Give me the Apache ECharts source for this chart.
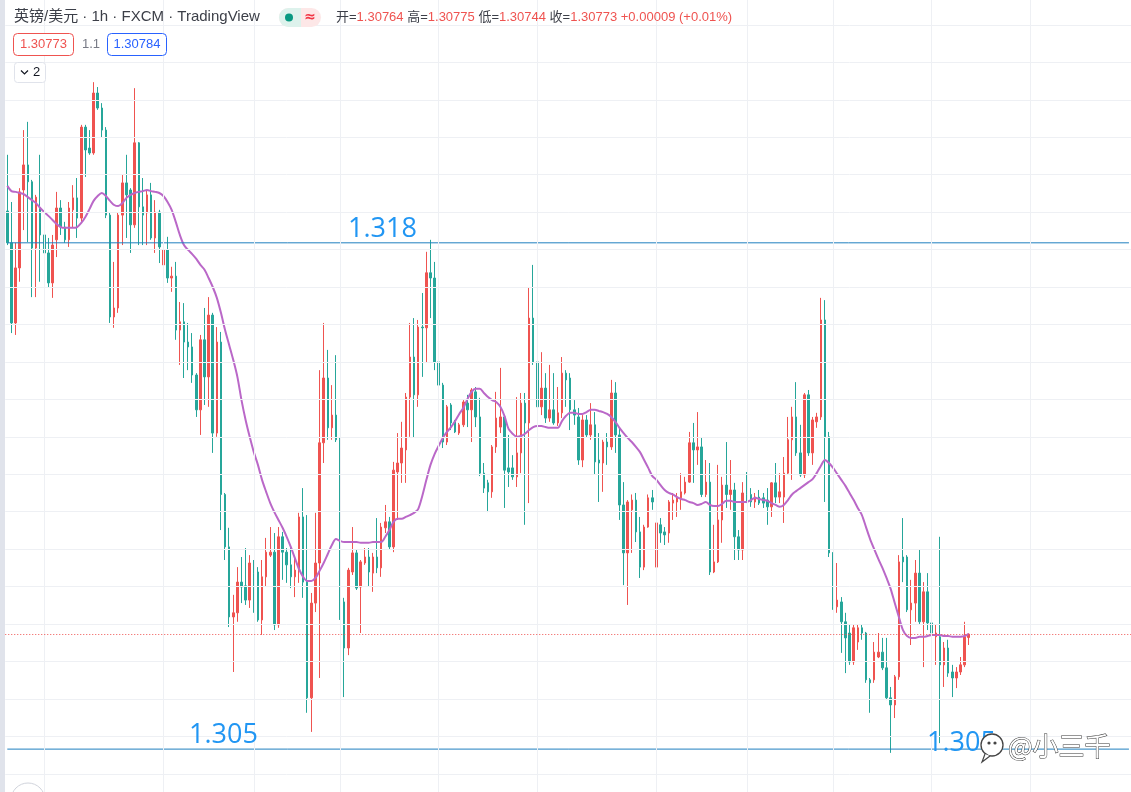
<!DOCTYPE html>
<html lang="zh-CN">
<head>
<meta charset="utf-8">
<title>英镑/美元 · 1h · FXCM</title>
<script src="https://cdn.jsdelivr.net/npm/echarts@6/dist/echarts.min.js"></script>
<style>
  html, body { margin: 0; padding: 0; background: #ffffff; }
  #chart { width: 1131px; height: 792px; }
</style>
</head>
<body>
<div id="chart"></div>
<script>
// GBP/USD 1h bars
const opens = [
  1.31903, 1.31818, 1.31604, 1.31751, 1.31959, 1.32026, 1.31981, 1.31804, 1.31911, 1.31839,
  1.31791, 1.31711, 1.31826, 1.31911, 1.31860, 1.31826, 1.31906, 1.31938, 1.31884, 1.32127,
  1.32071, 1.32058, 1.32218, 1.32178, 1.32119, 1.31892, 1.31620, 1.31644, 1.31892, 1.31978,
  1.31959, 1.31866, 1.32085, 1.31914, 1.31898, 1.31946, 1.31831, 1.31900, 1.31759, 1.31799,
  1.31724, 1.31729, 1.31585, 1.31607, 1.31553, 1.31540, 1.31465, 1.31372, 1.31559, 1.31460,
  1.31625, 1.31310, 1.31553, 1.31146, 1.31006, 1.30819, 1.30830, 1.30912, 1.30902, 1.30864,
  1.30963, 1.30939, 1.30811, 1.30926, 1.30984, 1.30992, 1.30798, 1.31033, 1.30992, 1.30958,
  1.30926, 1.30944, 1.31086, 1.30912, 1.30603, 1.30856, 1.30963, 1.31284, 1.31457, 1.31324,
  1.31358, 1.31292, 1.30859, 1.30736, 1.30939, 1.30990, 1.30899, 1.30963, 1.30979, 1.30936,
  1.30979, 1.30950, 1.31057, 1.31073, 1.31006, 1.31206, 1.31230, 1.31265, 1.31406, 1.31513,
  1.31412, 1.31593, 1.31591, 1.31738, 1.31724, 1.31500, 1.31438, 1.31286, 1.31385, 1.31340,
  1.31310, 1.31332, 1.31390, 1.31372, 1.31420, 1.31353, 1.31203, 1.31177, 1.31153, 1.31273,
  1.31326, 1.31353, 1.31217, 1.31217, 1.31193, 1.31257, 1.31390, 1.31337, 1.31617, 1.31500,
  1.31380, 1.31430, 1.31350, 1.31372, 1.31337, 1.31364, 1.31470, 1.31457, 1.31372, 1.31353,
  1.31238, 1.31345, 1.31305, 1.31332, 1.31238, 1.31230, 1.31286, 1.31273, 1.31417, 1.31305,
  1.31118, 1.30990, 1.31105, 1.31131, 1.31046, 1.30952, 1.31059, 1.31137, 1.30952, 1.31065,
  1.31046, 1.31043, 1.31123, 1.31126, 1.31137, 1.31150, 1.31179, 1.31284, 1.31265, 1.31273,
  1.31146, 1.31179, 1.30939, 1.30966, 1.31078, 1.31171, 1.31146, 1.31158, 1.31033, 1.30998,
  1.31150, 1.31146, 1.31126, 1.31139, 1.31137, 1.31131, 1.31113, 1.31177, 1.31139, 1.31139,
  1.31203, 1.31292, 1.31353, 1.31257, 1.31198, 1.31412, 1.31257, 1.31340, 1.31353, 1.31612,
  1.31300, 1.30990, 1.30846, 1.30859, 1.30806, 1.30776, 1.30699, 1.30752, 1.30790, 1.30776,
  1.30651, 1.30651, 1.30712, 1.30725, 1.30683, 1.30603, 1.30584, 1.30659, 1.30979, 1.30979,
  1.30838, 1.30856, 1.30936, 1.30806, 1.30886, 1.30803, 1.30766, 1.30766, 1.30691, 1.30736,
  1.30672, 1.30656, 1.30672, 1.30691, 1.30764
];
const closes = [
  1.31818, 1.31604, 1.31751, 1.31954, 1.32026, 1.31981, 1.31804, 1.31940, 1.31839, 1.31791,
  1.31711, 1.31812, 1.31911, 1.31860, 1.31826, 1.31911, 1.31938, 1.31884, 1.32127, 1.32066,
  1.32058, 1.32218, 1.32178, 1.32119, 1.31892, 1.31620, 1.31644, 1.31892, 1.31978, 1.31946,
  1.31866, 1.32085, 1.31914, 1.31892, 1.31946, 1.31831, 1.31900, 1.31807, 1.31799, 1.31724,
  1.31729, 1.31585, 1.31607, 1.31553, 1.31540, 1.31465, 1.31372, 1.31559, 1.31460, 1.31625,
  1.31310, 1.31553, 1.31146, 1.31006, 1.30819, 1.30830, 1.30912, 1.30899, 1.30864, 1.30963,
  1.30936, 1.30811, 1.30926, 1.30992, 1.30992, 1.30798, 1.31033, 1.30992, 1.30958, 1.30926,
  1.30944, 1.31086, 1.30912, 1.30603, 1.30856, 1.30963, 1.31284, 1.31457, 1.31324, 1.31358,
  1.31292, 1.30859, 1.30736, 1.30944, 1.30990, 1.30896, 1.30966, 1.30979, 1.30939, 1.30979,
  1.30950, 1.31059, 1.31073, 1.31006, 1.31211, 1.31230, 1.31270, 1.31406, 1.31513, 1.31412,
  1.31593, 1.31591, 1.31738, 1.31724, 1.31500, 1.31438, 1.31286, 1.31380, 1.31337, 1.31313,
  1.31332, 1.31393, 1.31372, 1.31425, 1.31353, 1.31203, 1.31163, 1.31153, 1.31273, 1.31350,
  1.31353, 1.31211, 1.31206, 1.31193, 1.31257, 1.31390, 1.31337, 1.31617, 1.31500, 1.31380,
  1.31430, 1.31350, 1.31372, 1.31337, 1.31364, 1.31470, 1.31452, 1.31372, 1.31358, 1.31238,
  1.31345, 1.31305, 1.31332, 1.31233, 1.31230, 1.31286, 1.31273, 1.31417, 1.31305, 1.31118,
  1.30990, 1.31126, 1.31131, 1.31046, 1.30952, 1.31059, 1.31137, 1.31126, 1.31070, 1.31043,
  1.31038, 1.31126, 1.31131, 1.31139, 1.31153, 1.31179, 1.31284, 1.31265, 1.31273, 1.31146,
  1.31179, 1.30939, 1.30966, 1.31078, 1.31171, 1.31146, 1.31158, 1.31033, 1.30998, 1.31150,
  1.31146, 1.31126, 1.31139, 1.31123, 1.31123, 1.31113, 1.31177, 1.31139, 1.31153, 1.31203,
  1.31292, 1.31353, 1.31257, 1.31198, 1.31412, 1.31257, 1.31345, 1.31353, 1.31612, 1.31300,
  1.30990, 1.30846, 1.30864, 1.30806, 1.30763, 1.30699, 1.30790, 1.30790, 1.30776, 1.30651,
  1.30643, 1.30725, 1.30725, 1.30683, 1.30603, 1.30584, 1.30659, 1.30966, 1.30966, 1.30838,
  1.30856, 1.30936, 1.30806, 1.30886, 1.30803, 1.30776, 1.30776, 1.30691, 1.30736, 1.30669,
  1.30656, 1.30672, 1.30691, 1.30766, 1.30773
];
const lows = [
  1.31812, 1.31577, 1.31572, 1.31714, 1.31852, 1.31820, 1.31673, 1.31673, 1.31714, 1.31780,
  1.31700, 1.31671, 1.31780, 1.31839, 1.31818, 1.31807, 1.31858, 1.31831, 1.31874, 1.31994,
  1.32053, 1.32053, 1.32173, 1.32098, 1.31884, 1.31604, 1.31591, 1.31631, 1.31812, 1.31831,
  1.31791, 1.31858, 1.31812, 1.31812, 1.31812, 1.31826, 1.31791, 1.31764, 1.31746, 1.31711,
  1.31687, 1.31559, 1.31492, 1.31457, 1.31478, 1.31444, 1.31353, 1.31305, 1.31385, 1.31380,
  1.31257, 1.31300, 1.31051, 1.30971, 1.30792, 1.30672, 1.30806, 1.30856, 1.30851, 1.30843,
  1.30830, 1.30806, 1.30771, 1.30899, 1.30979, 1.30784, 1.30790, 1.30918, 1.30910, 1.30896,
  1.30872, 1.30910, 1.30870, 1.30563, 1.30512, 1.30832, 1.30656, 1.31230, 1.31292, 1.31292,
  1.31286, 1.30811, 1.30605, 1.30717, 1.30931, 1.30891, 1.30776, 1.30958, 1.30899, 1.30886,
  1.30936, 1.30926, 1.31043, 1.30998, 1.30992, 1.31078, 1.31177, 1.31177, 1.31300, 1.31297,
  1.31380, 1.31460, 1.31497, 1.31617, 1.31478, 1.31406, 1.31270, 1.31278, 1.31318, 1.31310,
  1.31305, 1.31326, 1.31326, 1.31286, 1.31326, 1.31195, 1.31150, 1.31099, 1.31137, 1.31257,
  1.31310, 1.31110, 1.31166, 1.31185, 1.31166, 1.31203, 1.31065, 1.31123, 1.31492, 1.31366,
  1.31358, 1.31337, 1.31340, 1.31332, 1.31329, 1.31350, 1.31380, 1.31318, 1.31332, 1.31225,
  1.31219, 1.31297, 1.31292, 1.31198, 1.31126, 1.31153, 1.31225, 1.31265, 1.31257, 1.31078,
  1.30904, 1.30851, 1.30990, 1.31019, 1.30923, 1.30944, 1.31057, 1.31105, 1.30864, 1.31017,
  1.31011, 1.31017, 1.31078, 1.31086, 1.31105, 1.31146, 1.31177, 1.31177, 1.31225, 1.31139,
  1.31139, 1.30931, 1.30936, 1.30963, 1.31017, 1.31110, 1.31105, 1.30971, 1.30971, 1.30971,
  1.31123, 1.31113, 1.31110, 1.31118, 1.31110, 1.31065, 1.31086, 1.31123, 1.31123, 1.31070,
  1.31198, 1.31185, 1.31249, 1.31193, 1.31190, 1.31249, 1.31225, 1.31324, 1.31345, 1.31126,
  1.30979, 1.30838, 1.30830, 1.30723, 1.30669, 1.30691, 1.30691, 1.30731, 1.30758, 1.30643,
  1.30563, 1.30643, 1.30709, 1.30677, 1.30597, 1.30456, 1.30549, 1.30651, 1.30912, 1.30832,
  1.30744, 1.30806, 1.30800, 1.30685, 1.30784, 1.30763, 1.30691, 1.30482, 1.30632, 1.30659,
  1.30605, 1.30629, 1.30664, 1.30685, 1.30744
];
const highs = [
  1.32053, 1.31927, 1.31818, 1.31964, 1.32119, 1.32141, 1.31986, 1.31946, 1.32053, 1.31852,
  1.31831, 1.31839, 1.31954, 1.31932, 1.31874, 1.31927, 1.31972, 1.31991, 1.32133, 1.32133,
  1.32119, 1.32247, 1.32234, 1.32191, 1.32127, 1.31898, 1.31767, 1.31898, 1.31999, 1.32053,
  1.31964, 1.32231, 1.32087, 1.31991, 1.31959, 1.31978, 1.31932, 1.31906, 1.31839, 1.31834,
  1.31754, 1.31767, 1.31660, 1.31657, 1.31604, 1.31577, 1.31470, 1.31572, 1.31644, 1.31673,
  1.31631, 1.31593, 1.31580, 1.31150, 1.31057, 1.30878, 1.30952, 1.30979, 1.31003, 1.30984,
  1.30971, 1.30952, 1.30971, 1.31030, 1.31059, 1.31043, 1.31059, 1.31046, 1.31003, 1.31006,
  1.30979, 1.31097, 1.31163, 1.31091, 1.30883, 1.31097, 1.31478, 1.31604, 1.31532, 1.31438,
  1.31518, 1.31297, 1.30870, 1.30950, 1.31059, 1.30998, 1.30971, 1.31003, 1.31003, 1.30990,
  1.31083, 1.31070, 1.31118, 1.31086, 1.31233, 1.31310, 1.31340, 1.31417, 1.31604, 1.31617,
  1.31612, 1.31684, 1.31794, 1.31826, 1.31767, 1.31553, 1.31444, 1.31385, 1.31390, 1.31345,
  1.31337, 1.31398, 1.31412, 1.31430, 1.31433, 1.31404, 1.31230, 1.31185, 1.31278, 1.31420,
  1.31484, 1.31358, 1.31305, 1.31251, 1.31406, 1.31417, 1.31417, 1.31700, 1.31759, 1.31532,
  1.31526, 1.31470, 1.31492, 1.31470, 1.31433, 1.31513, 1.31478, 1.31470, 1.31398, 1.31377,
  1.31358, 1.31358, 1.31390, 1.31366, 1.31310, 1.31292, 1.31310, 1.31452, 1.31446, 1.31326,
  1.31179, 1.31131, 1.31146, 1.31150, 1.31086, 1.31065, 1.31146, 1.31158, 1.31086, 1.31083,
  1.31059, 1.31131, 1.31150, 1.31150, 1.31203, 1.31193, 1.31313, 1.31337, 1.31366, 1.31297,
  1.31238, 1.31230, 1.31065, 1.31225, 1.31193, 1.31286, 1.31238, 1.31177, 1.31051, 1.31179,
  1.31206, 1.31163, 1.31150, 1.31158, 1.31150, 1.31163, 1.31179, 1.31230, 1.31203, 1.31246,
  1.31353, 1.31380, 1.31446, 1.31332, 1.31417, 1.31425, 1.31353, 1.31364, 1.31671, 1.31665,
  1.31313, 1.30992, 1.30963, 1.30872, 1.30830, 1.30798, 1.30798, 1.30798, 1.30798, 1.30779,
  1.30656, 1.30752, 1.30776, 1.30763, 1.30763, 1.30632, 1.30664, 1.30984, 1.31083, 1.30984,
  1.30918, 1.30971, 1.30998, 1.30912, 1.30936, 1.30859, 1.30798, 1.31033, 1.30752, 1.30758,
  1.30691, 1.30685, 1.30712, 1.30806, 1.30775
];
// moving average (purple line), read per bar
const maValues = [
  1.31970, 1.31956, 1.31954, 1.31951, 1.31948, 1.31940, 1.31932, 1.31924, 1.31911, 1.31900,
  1.31890, 1.31879, 1.31868, 1.31860, 1.31858, 1.31858, 1.31858, 1.31860, 1.31871, 1.31887,
  1.31908, 1.31930, 1.31943, 1.31951, 1.31943, 1.31930, 1.31919, 1.31916, 1.31924, 1.31938,
  1.31946, 1.31951, 1.31954, 1.31956, 1.31959, 1.31956, 1.31954, 1.31951, 1.31943, 1.31927,
  1.31906, 1.31874, 1.31839, 1.31812, 1.31799, 1.31788, 1.31775, 1.31759, 1.31746, 1.31724,
  1.31700, 1.31671, 1.31631, 1.31585, 1.31545, 1.31505, 1.31460, 1.31398, 1.31345, 1.31300,
  1.31259, 1.31225, 1.31185, 1.31153, 1.31123, 1.31099, 1.31078, 1.31057, 1.31033, 1.31006,
  1.30976, 1.30947, 1.30926, 1.30915, 1.30915, 1.30923, 1.30942, 1.30963, 1.30987, 1.31011,
  1.31027, 1.31022, 1.31019, 1.31019, 1.31019, 1.31019, 1.31017, 1.31017, 1.31017, 1.31019,
  1.31019, 1.31019, 1.31033, 1.31051, 1.31073, 1.31081, 1.31081, 1.31086, 1.31091, 1.31097,
  1.31107, 1.31142, 1.31185, 1.31225, 1.31254, 1.31276, 1.31297, 1.31313, 1.31326, 1.31342,
  1.31361, 1.31377, 1.31401, 1.31420, 1.31428, 1.31428, 1.31417, 1.31406, 1.31398, 1.31393,
  1.31380, 1.31356, 1.31321, 1.31308, 1.31300, 1.31302, 1.31308, 1.31318, 1.31326, 1.31329,
  1.31329, 1.31326, 1.31324, 1.31324, 1.31324, 1.31342, 1.31356, 1.31364, 1.31364, 1.31361,
  1.31361, 1.31366, 1.31372, 1.31372, 1.31369, 1.31366, 1.31361, 1.31353, 1.31340, 1.31324,
  1.31310, 1.31297, 1.31286, 1.31273, 1.31259, 1.31238, 1.31217, 1.31195, 1.31185, 1.31171,
  1.31158, 1.31150, 1.31146, 1.31139, 1.31134, 1.31131, 1.31126, 1.31123, 1.31118, 1.31121,
  1.31126, 1.31118, 1.31115, 1.31115, 1.31121, 1.31129, 1.31129, 1.31126, 1.31126, 1.31126,
  1.31126, 1.31131, 1.31137, 1.31134, 1.31131, 1.31129, 1.31123, 1.31118, 1.31113, 1.31118,
  1.31131, 1.31146, 1.31155, 1.31163, 1.31171, 1.31179, 1.31187, 1.31203, 1.31222, 1.31238,
  1.31230, 1.31217, 1.31201, 1.31185, 1.31169, 1.31150, 1.31131, 1.31110, 1.31091, 1.31059,
  1.31027, 1.31000, 1.30974, 1.30950, 1.30923, 1.30894, 1.30856, 1.30819, 1.30784, 1.30768,
  1.30763, 1.30763, 1.30766, 1.30766, 1.30768, 1.30771, 1.30771, 1.30771, 1.30768, 1.30768,
  1.30766, 1.30766, 1.30766, 1.30768, 1.30774
];

const slotCount = 274; // bars plus the empty space on the right
const categories = Array.from({ length: slotCount }, (_, i) => String(i));
const dayStarts = [9, 38, 60, 81, 105, 129, 158, 180, 201, 225, 249];
// visible price window and the 0.001 grid levels inside it
const priceMin = 1.303515;
const priceMax = 1.324664;
const priceGrid = [
  1.304, 1.305, 1.306, 1.307, 1.308, 1.309, 1.310, 1.311, 1.312, 1.313, 1.314,
  1.315, 1.316, 1.317, 1.318, 1.319, 1.320, 1.321, 1.322, 1.323, 1.324
];
const levelLines = [1.31818, 1.30466];
const lastPrice = 1.30773;

const quote = { open: "1.30764", high: "1.30775", low: "1.30744", close: "1.30773", change: "+0.00009", pct: "(+0.01%)" };
const sellPrice = "1.30773";
const spread = "1.1";
const buyPrice = "1.30784";

const UP = "#ef5350";
const DOWN = "#26a69a";
const LEVEL_BLUE = "#1f7fbf";
const LABEL_BLUE = "#2196f3";
const GRID = "#eef0f4";
const FONT = "'Liberation Sans', 'Noto Sans CJK SC', sans-serif";

const candles = opens.map((o, i) => [o, closes[i], lows[i], highs[i]]);
const lastSlot = categories[categories.length - 1];

const chart = echarts.init(document.getElementById("chart"), null, { renderer: "canvas" });

chart.setOption({
  animation: false,
  backgroundColor: "#ffffff",
  grid: { left: 5.25, right: 0, top: 0, bottom: 0 },
  xAxis: {
    type: "category",
    data: categories,
    boundaryGap: true,
    axisLine: { show: false },
    axisTick: { show: false },
    axisLabel: { show: false },
    splitLine: { show: false },
  },
  yAxis: {
    type: "value",
    min: priceMin,
    max: priceMax,
    axisLine: { show: false },
    axisTick: { show: false },
    axisLabel: { show: false },
    splitLine: { show: false },
  },
  series: [
    {
      // background grid: day separators and 0.001 price levels
      type: "line",
      data: [],
      z: 1,
      silent: true,
      markLine: {
        silent: true,
        precision: 6,
        symbol: "none",
        label: { show: false },
        lineStyle: { color: GRID, width: 1, type: "solid" },
        data: dayStarts.map((i) => ({ xAxis: i })).concat(priceGrid.map((p) => ({ yAxis: p }))),
      },
    },
    {
      type: "candlestick",
      data: candles,
      z: 2,
      barWidth: 2,
      itemStyle: {
        color: UP,
        color0: DOWN,
        borderColor: UP,
        borderColor0: DOWN,
        borderWidth: 1,
      },
    },
    {
      type: "line",
      data: maValues,
      z: 3,
      showSymbol: false,
      smooth: 0.3,
      lineStyle: { color: "#ba68c8", width: 2 },
    },
    // hand-drawn support / resistance levels
    ...levelLines.map((p) => ({
      type: "line",
      data: [["0", p], [lastSlot, p]],
      z: 4,
      silent: true,
      showSymbol: false,
      lineStyle: { color: LEVEL_BLUE, width: 1, opacity: 1 },
      itemStyle: { color: LEVEL_BLUE },
    })),
    {
      // last price
      type: "line",
      data: [],
      z: 4,
      silent: true,
      markLine: {
        silent: true,
        precision: 6,
        symbol: "none",
        label: { show: false },
        lineStyle: { color: UP, width: 1, type: [1, 2] },
        data: [{ yAxis: lastPrice }],
      },
    },
  ],
  graphic: [
    { type: "rect", shape: { x: 0, y: 0, width: 5, height: 792 }, style: { fill: "#e0e3eb" }, z: 10 },
    // header row 1
    {
      type: "text",
      style: { x: 14, y: 17, text: "英镑/美元 · 1h · FXCM · TradingView", font: "15px " + FONT, fill: "#3c3f48", verticalAlign: "middle" },
      z: 10,
    },
    { type: "rect", shape: { x: 279, y: 8, width: 42, height: 19, r: 9.5 }, style: { fill: "#fde7e7" }, z: 10 },
    { type: "rect", shape: { x: 279, y: 8, width: 22, height: 19, r: [9.5, 0, 0, 9.5] }, style: { fill: "#ddf2ec" }, z: 10 },
    { type: "circle", shape: { cx: 289, cy: 17.5, r: 4 }, style: { fill: "#089981" }, z: 11 },
    {
      type: "text",
      style: { x: 310, y: 17, text: "≈", font: "bold 14px 'DejaVu Sans'", fill: "#f23645", align: "center", verticalAlign: "middle" },
      z: 11,
    },
    {
      type: "text",
      style: {
        x: 336,
        y: 17,
        verticalAlign: "middle",
        text:
          "{k|开=}{v|" + quote.open + "} {k|高=}{v|" + quote.high + "} {k|低=}{v|" + quote.low +
          "} {k|收=}{v|" + quote.close + "} {v|" + quote.change + " " + quote.pct + "}",
        font: "13px " + FONT,
        rich: {
          k: { fill: "#3c3f48", font: "13px " + FONT },
          v: { fill: UP, font: "13px " + FONT },
        },
      },
      z: 10,
    },
    // header row 2
    { type: "rect", shape: { x: 13.5, y: 33.5, width: 60, height: 22, r: 4 }, style: { fill: "#fff", stroke: UP, lineWidth: 1 }, z: 10 },
    {
      type: "text",
      style: { x: 43.5, y: 44.5, text: sellPrice, font: "13px " + FONT, fill: UP, align: "center", verticalAlign: "middle" },
      z: 11,
    },
    {
      type: "text",
      style: { x: 82, y: 44.5, text: spread, font: "13px " + FONT, fill: "#787b86", verticalAlign: "middle" },
      z: 10,
    },
    { type: "rect", shape: { x: 107.5, y: 33.5, width: 59, height: 22, r: 4 }, style: { fill: "#fff", stroke: "#2962ff", lineWidth: 1 }, z: 10 },
    {
      type: "text",
      style: { x: 137, y: 44.5, text: buyPrice, font: "13px " + FONT, fill: "#2962ff", align: "center", verticalAlign: "middle" },
      z: 11,
    },
    // header row 3
    { type: "rect", shape: { x: 14.5, y: 62.5, width: 31, height: 20, r: 3 }, style: { fill: "#fff", stroke: "#e0e3eb", lineWidth: 1 }, z: 10 },
    { type: "polyline", shape: { points: [[21, 70.5], [24.5, 74], [28, 70.5]] }, style: { stroke: "#131722", lineWidth: 1.2, fill: null }, z: 11 },
    {
      type: "text",
      style: { x: 33, y: 72.5, text: "2", font: "13px " + FONT, fill: "#131722", verticalAlign: "middle" },
      z: 11,
    },
    // level labels
    {
      type: "text",
      style: { x: 348, y: 243, text: "1.318", font: "27px 'Open Sans', sans-serif", fill: LABEL_BLUE, verticalAlign: "bottom" },
      z: 10,
    },
    {
      type: "text",
      style: { x: 189, y: 749, text: "1.305", font: "27px 'Open Sans', sans-serif", fill: LABEL_BLUE, verticalAlign: "bottom" },
      z: 10,
    },
    {
      type: "text",
      style: { x: 927, y: 757, text: "1.305", font: "27px 'Open Sans', sans-serif", fill: LABEL_BLUE, verticalAlign: "bottom" },
      z: 10,
    },
    // watermark
    { type: "circle", shape: { cx: 992, cy: 745, r: 11 }, style: { fill: "#fff", stroke: "#444", lineWidth: 1.3 }, z: 12 },
    { type: "polyline", shape: { points: [[985, 754], [982, 762], [990, 756]] }, style: { fill: "#fff", stroke: "#444", lineWidth: 1.2 }, z: 12 },
    { type: "circle", shape: { cx: 989, cy: 743, r: 1.6 }, style: { fill: "#444" }, z: 13 },
    { type: "circle", shape: { cx: 995, cy: 743, r: 1.6 }, style: { fill: "#444" }, z: 13 },
    {
      type: "text",
      style: {
        x: 1008,
        y: 746,
        text: "@小三千",
        font: "26px 'Noto Sans CJK SC', sans-serif",
        fill: "#ffffff",
        stroke: "#333",
        lineWidth: 1,
        verticalAlign: "middle",
      },
      z: 12,
    },
    // bottom-left round button (cut off)
    { type: "circle", shape: { cx: 28, cy: 800, r: 17 }, style: { fill: "#fff", stroke: "#d1d4dc", lineWidth: 1 }, z: 10 },
  ],
});

window.addEventListener("resize", () => chart.resize());
</script>
</body>
</html>
